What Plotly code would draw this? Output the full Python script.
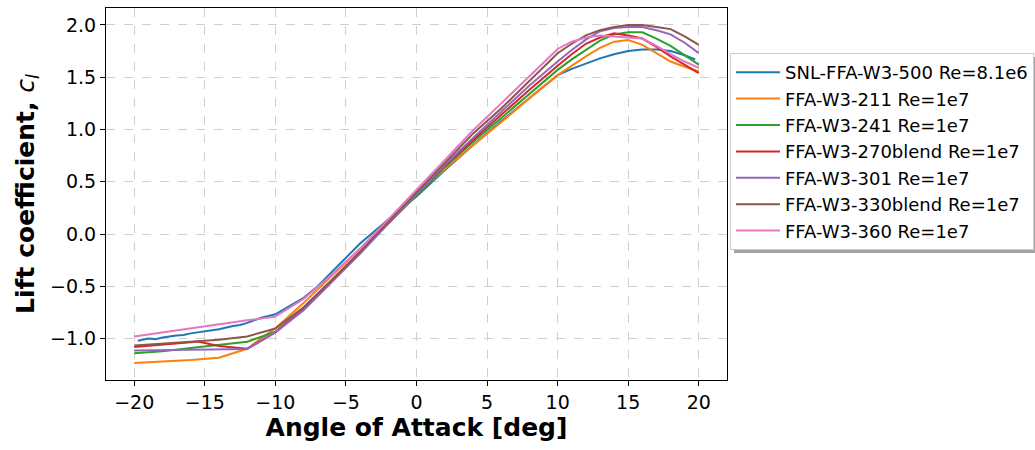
import plotly.graph_objects as go

# ---- data ----
names = [
    "SNL-FFA-W3-500 Re=8.1e6",
    "FFA-W3-211 Re=1e7",
    "FFA-W3-241 Re=1e7",
    "FFA-W3-270blend Re=1e7",
    "FFA-W3-301 Re=1e7",
    "FFA-W3-330blend Re=1e7",
    "FFA-W3-360 Re=1e7",
]
colors = ["#1f77b4", "#ff7f0e", "#2ca02c", "#d62728", "#9467bd", "#8c564b", "#e377c2"]

aoa_500 = [-19.75, -19, -18.5, -18, -17, -16.5, -16, -15, -14.5, -14, -13, -12.5, -12, -11, -10,
           -9, -8, -7, -6, -5, -4, -2, 0, 2, 4, 6, 8, 10, 11, 12, 13, 14, 15, 16, 17, 18, 19, 19.75]
cl_500 = [-1.02, -1.0, -1.005, -0.99, -0.97, -0.965, -0.95, -0.93, -0.925, -0.91, -0.88, -0.87, -0.85, -0.80, -0.767,
          -0.69, -0.61, -0.50, -0.36, -0.22, -0.09, 0.14, 0.36, 0.61, 0.85, 1.08, 1.30, 1.52, 1.58, 1.63, 1.68, 1.72, 1.75, 1.765, 1.765, 1.75, 1.71, 1.67]

aoa_std = [-20, -18, -16, -14, -12, -10, -8, -6, -4, -2, 0, 2, 4, 6, 8, 10, 11, 12, 13, 14, 15, 16, 17, 18, 19, 20]
cl_211 = [-1.234, -1.22, -1.205, -1.183, -1.097, -0.90, -0.66, -0.40, -0.14, 0.12, 0.38, 0.62, 0.85, 1.07, 1.30, 1.52,
          1.61, 1.70, 1.78, 1.84, 1.855, 1.81, 1.73, 1.65, 1.60, 1.555]
cl_241 = [-1.14, -1.12, -1.09, -1.06, -1.03, -0.935, -0.71, -0.44, -0.17, 0.11, 0.38, 0.64, 0.88, 1.11, 1.34, 1.57,
          1.67, 1.76, 1.85, 1.91, 1.93, 1.93, 1.87, 1.80, 1.71, 1.62]
aoa_270 = [-20, -18, -16, -15.5, -14, -12, -10, -8, -6, -4, -2, 0, 2, 4, 6, 8, 10, 11, 12, 13, 14, 15, 16, 17, 18, 19, 20]
cl_270 = [-1.08, -1.06, -1.035, -1.027, -1.07, -1.097, -0.94, -0.72, -0.45, -0.18, 0.10, 0.38, 0.65, 0.90, 1.14, 1.38, 1.61,
          1.72, 1.82, 1.88, 1.92, 1.90, 1.87, 1.79, 1.70, 1.62, 1.54]
cl_301 = [-1.113, -1.11, -1.105, -1.10, -1.10, -0.94, -0.73, -0.46, -0.19, 0.10, 0.38, 0.66, 0.92, 1.17, 1.42, 1.65,
          1.76, 1.86, 1.94, 1.97, 1.98, 1.98, 1.95, 1.91, 1.83, 1.73]
cl_330 = [-1.065, -1.05, -1.03, -1.01, -0.98, -0.904, -0.70, -0.44, -0.17, 0.12, 0.40, 0.69, 0.96, 1.20, 1.47, 1.73,
          1.82, 1.90, 1.95, 1.98, 2.0, 2.0, 1.98, 1.96, 1.89, 1.81]
cl_360 = [-0.98, -0.94, -0.90, -0.86, -0.825, -0.79, -0.62, -0.39, -0.14, 0.14, 0.42, 0.71, 0.99, 1.25, 1.51, 1.77,
          1.84, 1.88, 1.90, 1.89, 1.88, 1.87, 1.80, 1.72, 1.65, 1.59]

series_x = [aoa_500, aoa_std, aoa_std, aoa_270, aoa_std, aoa_std, aoa_std]
series_y = [cl_500, cl_211, cl_241, cl_270, cl_301, cl_330, cl_360]

x_ticks = [-20, -15, -10, -5, 0, 5, 10, 15, 20]
y_ticks = [-1.0, -0.5, 0.0, 0.5, 1.0, 1.5, 2.0]

FONT = "DejaVu Sans"

fig = go.Figure()
for n, c, xs, ys in zip(names, colors, series_x, series_y):
    fig.add_trace(go.Scatter(x=xs, y=ys, mode="lines", name=n,
                             line=dict(color=c, width=2)))

W, H = 1035, 450
ml, mr, mt, mb = 106, 308, 8, 70
pw, ph = W - ml - mr, H - mt - mb

def px2paper(x, y):
    return (x - ml) / pw, (H - mb - y) / ph

# legend shadow
sx0, sy0 = px2paper(734, 57)
sx1, sy1 = px2paper(1045, 253)
fig.add_shape(type="rect", xref="paper", yref="paper", x0=sx0, y0=sy1, x1=sx1, y1=sy0,
              fillcolor="rgba(90,90,90,0.55)", line=dict(width=0), layer="above")

lx, ly = px2paper(730, 53)

axis_common = dict(
    showline=True, linecolor="black", linewidth=1.1, mirror=True,
    ticks="outside", ticklen=5, tickwidth=1.1, tickcolor="black",
    showgrid=True, gridcolor="#cfcfcf", griddash="dash", gridwidth=1,
    zeroline=False,
    tickfont=dict(family=FONT, size=19, color="#000"),
)

fig.update_layout(
    width=W, height=H,
    margin=dict(l=ml, r=mr, t=mt, b=mb, autoexpand=False),
    paper_bgcolor="white", plot_bgcolor="white",
    font=dict(family=FONT, color="#000"),
    xaxis=dict(range=[-22, 22], tickvals=x_ticks, ticktext=[("\u2212" if v < 0 else "") + str(abs(v)) for v in x_ticks],
               title=dict(text="<b>Angle of Attack [deg]</b>", font=dict(family=FONT, size=25), standoff=6),
               **axis_common),
    yaxis=dict(range=[-1.396, 2.162], tickvals=y_ticks,
               ticktext=[("\u2212" if v < 0 else "") + f"{abs(v):.1f}" for v in y_ticks],
               title=dict(text="<b>Lift coefficient, </b><i>c</i><sub><i>l</i></sub>", font=dict(family=FONT, size=25), standoff=8),
               **axis_common),
    legend=dict(x=lx, y=ly, xanchor="left", yanchor="top",
                bgcolor="white", bordercolor="#cccccc", borderwidth=1,
                font=dict(family=FONT, size=18, color="#000"),
                itemwidth=44, tracegroupgap=0),
    showlegend=True,
)

fig.write_html("out.html")
